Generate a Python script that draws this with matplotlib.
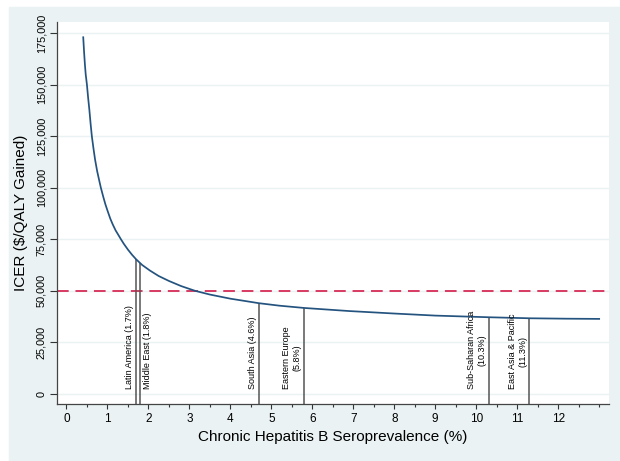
import numpy as np
import matplotlib.pyplot as plt
from matplotlib.patches import Rectangle
from matplotlib.ticker import MultipleLocator, FuncFormatter

plt.rcParams['font.family'] = ['Liberation Sans', 'DejaVu Sans']

# ICER curve (seroprevalence %, $/QALY)
prevalence = [0.41, 0.43, 0.45, 0.47, 0.50, 0.53, 0.56, 0.59, 0.62, 0.66,
              0.70, 0.75, 0.80, 0.84, 0.90, 0.95, 1.00, 1.07, 1.13, 1.20,
              1.27, 1.33, 1.40, 1.50, 1.60, 1.70, 1.85, 2.04, 2.25, 2.50,
              2.80, 3.14, 3.50, 4.00, 4.70, 5.20, 5.80, 6.90, 8.00, 9.00,
              10.30, 11.30, 12.20, 13.00]
icer = [172900, 166000, 160000, 155000, 150000, 143500, 137700, 131000, 125000, 119000,
        113500, 108000, 103500, 100000, 95500, 92000, 89000, 85000, 82200, 79300,
        77000, 75000, 72800, 70000, 67500, 65300, 62500, 59800, 57200, 54800,
        52300, 50000, 48200, 46200, 44000, 42800, 41700, 40200, 39000, 38000,
        37200, 36700, 36500, 36400]

# WTP threshold
threshold = 50000

# regions (line position, label, ICER at that point)
regions = ['Latin America (1.7%)', 'Middle East (1.8%)', 'South Asia (4.6%)',
           'Eastern Europe\n(5.8%)', 'Sub-Saharan Africa\n(10.3%)',
           'East Asia & Pacific\n(11.3%)']
region_x = [1.7, 1.8, 4.7, 5.8, 10.3, 11.3]
region_icer = [65300, 63400, 44000, 41700, 37200, 36700]

bg = '#EAF2F3'
navy = '#24537F'

fig = plt.figure(figsize=(6.2, 4.61), dpi=100, facecolor='white')
rect = Rectangle((9/620, 0), 1 - 9/620, 1 - 7/461,
                 transform=fig.transFigure, color=bg, zorder=-10)
fig.add_artist(rect)
ax = fig.add_axes([57/620, 1 - 404/461, 552/620, 382/461])
ax.set_zorder(1)
ax.set_facecolor('white')

ymin = -4850
ax.set_xlim(-0.23, 13.24)
ax.set_ylim(ymin, 180300)

ax.yaxis.set_major_locator(MultipleLocator(25000))
ax.grid(axis='y', color=bg, linewidth=1.0, zorder=0)
ax.set_axisbelow(True)

ax.plot(prevalence, icer, color=navy, linewidth=1.25, zorder=3,
        solid_joinstyle='round')
ax.axhline(threshold, color='#D93A62', linewidth=1.4, dashes=(6, 3.5), zorder=2)

for name, xv, yv in zip(regions, region_x, region_icer):
    ax.vlines(xv, ymin, yv, color='#555555', linewidth=1.1, zorder=2)
    if name.startswith('Middle'):
        ax.text(xv + 0.07, 2500, name, rotation=90, ha='left', va='bottom',
                fontsize=6.5, multialignment='center')
    else:
        ax.text(xv - 0.06, 2500, name, rotation=90, ha='right', va='bottom',
                fontsize=6.5, multialignment='center')

ax.set_xticks(range(0, 13))
ax.xaxis.set_minor_locator(MultipleLocator(0.5))
ax.yaxis.set_major_formatter(FuncFormatter(lambda v, p: f'{int(v):,}'))
ax.tick_params(axis='x', which='major', length=3.6, width=0.8, color='#333333',
               labelsize=8.5, pad=3.2)
ax.tick_params(axis='x', which='minor', length=2.2, width=0.8, color='#333333')
ax.tick_params(axis='y', which='major', length=4.7, width=0.8, color='#333333',
               labelsize=7.8, pad=3.0)
for lab in ax.get_yticklabels():
    lab.set_rotation(90)
    lab.set_va('center')

for side in ['top', 'right']:
    ax.spines[side].set_visible(False)
for side in ['left', 'bottom']:
    ax.spines[side].set_color('#444444')
    ax.spines[side].set_linewidth(0.9)

ax.set_xlabel('Chronic Hepatitis B Seroprevalence (%)', fontsize=11, labelpad=3)
ax.set_ylabel('ICER ($/QALY Gained)', fontsize=11, labelpad=6)

fig.savefig('out.png', dpi=100, facecolor='white')
